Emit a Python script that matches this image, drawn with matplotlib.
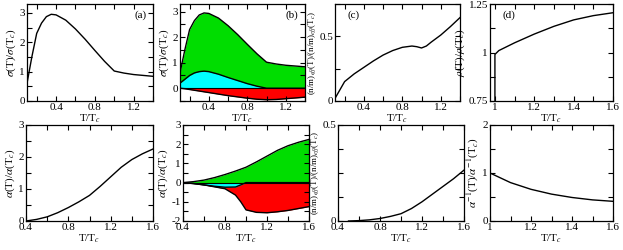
import matplotlib
matplotlib.use("Agg")
import matplotlib.pyplot as plt
from matplotlib.ticker import MultipleLocator, FuncFormatter

plt.rcParams["font.family"] = ["Liberation Serif", "DejaVu Serif"]
plt.rcParams["mathtext.fontset"] = "stix"
plt.rcParams["font.size"] = 8

# ---------------------------------------------------------------------------
# Data
# ---------------------------------------------------------------------------
# (a)/(b) conductivity, T/Tc 0.1 .. 1.4
t_sig = [0.1, 0.15, 0.2, 0.25, 0.3, 0.35, 0.4, 0.5, 0.6, 0.7, 0.8, 0.9, 1.0, 1.1, 1.2, 1.3, 1.4]
sig_tot = [0.6, 1.5, 2.3, 2.65, 2.87, 2.95, 2.93, 2.75, 2.45, 2.1, 1.72, 1.35, 1.02, 0.95, 0.9, 0.87, 0.84]
sig_cyan = [0.2, 0.35, 0.5, 0.6, 0.65, 0.67, 0.65, 0.55, 0.42, 0.3, 0.18, 0.08, 0.0, 0.0, 0.0, 0.0, 0.0]
sig_red = [0.0, -0.02, -0.05, -0.08, -0.11, -0.14, -0.17, -0.23, -0.29, -0.34, -0.39, -0.43, -0.45, -0.44, -0.41, -0.38, -0.35]

# (c) (n/m)_eff, T/Tc 0.1 .. 1.4
t_nm = [0.1, 0.2, 0.3, 0.4, 0.5, 0.6, 0.7, 0.8, 0.9, 0.95, 1.0, 1.05, 1.1, 1.2, 1.3, 1.4]
nm_top = [0.02, 0.15, 0.21, 0.26, 0.31, 0.355, 0.39, 0.415, 0.425, 0.42, 0.41, 0.425, 0.455, 0.51, 0.575, 0.645]

# (d) resistivity, T/Tc 1 .. 1.6
t_rho = [1.0, 1.0, 1.02, 1.05, 1.1, 1.2, 1.3, 1.4, 1.5, 1.6]
rho = [0.75, 0.99, 1.01, 1.025, 1.05, 1.095, 1.135, 1.168, 1.19, 1.205]

# (e)/(f) alpha, T/Tc 0.4 .. 1.6
t_al = [0.4, 0.5, 0.6, 0.7, 0.8, 0.9, 0.95, 1.0, 1.1, 1.2, 1.3, 1.4, 1.5, 1.6]
al_tot = [0.0, 0.05, 0.13, 0.26, 0.42, 0.6, 0.7, 0.8, 1.08, 1.38, 1.68, 1.92, 2.1, 2.25]
al_cyan = [0.0, -0.05, -0.12, -0.19, -0.24, -0.23, -0.12, 0.0, 0.0, 0.0, 0.0, 0.0, 0.0, 0.0]
al_red = [0.0, -0.05, -0.12, -0.22, -0.32, -0.65, -1.0, -1.42, -1.55, -1.57, -1.52, -1.45, -1.35, -1.25]

# (g) (n/m)_eff, T/Tc 0.5 .. 1.6
t_nm2 = [0.5, 0.6, 0.7, 0.8, 0.9, 1.0, 1.1, 1.2, 1.3, 1.4, 1.5, 1.6]
nm_bot = [0.0, 0.002, 0.006, 0.013, 0.024, 0.038, 0.065, 0.1, 0.14, 0.18, 0.22, 0.265]

# (h) inverse alpha, T/Tc 1 .. 1.6
t_ainv = [1.0, 1.05, 1.1, 1.2, 1.3, 1.4, 1.5, 1.6]
ainv = [1.0, 0.9, 0.8, 0.66, 0.56, 0.49, 0.44, 0.41]

GREEN, CYAN, RED = "#00dd00", "#00ffff", "#ff0000"
XLAB = r"T/T$_c$"
fmt = FuncFormatter(lambda v, p: f"{v:g}")

# ---------------------------------------------------------------------------
# Layout (pixel boxes: left, top, width, height)
# ---------------------------------------------------------------------------
W, H = 623, 250
boxes = [
    (27, 4, 126, 97), (180, 4, 125, 97), (335, 4, 125, 97), (490, 4, 123, 97),
    (26, 125, 127, 96), (183, 125, 126, 96), (338, 125, 126, 96), (490, 125, 123, 96),
]

fig = plt.figure(figsize=(W / 100, H / 100), dpi=100)
axs = [fig.add_axes([l / W, (H - t - h) / H, w / W, h / H]) for l, t, w, h in boxes]


def style(ax, xlim, ylim, xmaj, xmin, ymaj, ymin, ylabel, ylsize=8):
    ax.set_xlim(*xlim)
    ax.set_ylim(*ylim)
    ax.xaxis.set_major_locator(MultipleLocator(xmaj))
    ax.xaxis.set_minor_locator(MultipleLocator(xmin))
    ax.yaxis.set_major_locator(MultipleLocator(ymaj))
    ax.yaxis.set_minor_locator(MultipleLocator(ymin))
    ax.xaxis.set_major_formatter(fmt)
    ax.yaxis.set_major_formatter(fmt)
    ax.tick_params(which="both", direction="in", top=True, right=True, labelsize=8, pad=1.5)
    ax.tick_params(which="both", length=3.5, width=0.8)
    ax.set_xlabel(XLAB, fontsize=8, labelpad=0)
    ax.set_ylabel(ylabel, fontsize=ylsize, labelpad=1)
    for s in ax.spines.values():
        s.set_linewidth(0.9)


sig_lab = r"$\sigma$(T)/$\sigma$(T$_c$)"
nm_lab = r"(n/m)$_{eff}$(T)/(n/m)$_{eff}$(T$_c$)"
al_lab = r"$\alpha$(T)/$\alpha$(T$_c$)"

# (a)
ax = axs[0]
ax.plot(t_sig, sig_tot, color="k", lw=1)
style(ax, (0.1, 1.4), (0, 3.3), 0.4, 0.2, 1, 0.5, sig_lab)
ax.text(0.95, 0.93, "(a)", transform=ax.transAxes, ha="right", va="top")

# (b)
ax = axs[1]
ax.fill_between(t_sig, 0, sig_tot, color=GREEN, lw=0)
ax.fill_between(t_sig, sig_red, 0, color=RED, lw=0)
ax.fill_between(t_sig, 0, sig_cyan, color=CYAN, lw=0)
ax.plot(t_sig, sig_tot, color="k", lw=1)
ax.plot(t_sig, sig_cyan, color="k", lw=1)
ax.plot(t_sig, sig_red, color="k", lw=1)
ax.axhline(0, color="k", lw=0.8)
style(ax, (0.1, 1.4), (-0.5, 3.3), 0.4, 0.2, 1, 0.5, sig_lab)
ax.text(0.95, 0.93, "(b)", transform=ax.transAxes, ha="right", va="top")

# (c)
ax = axs[2]
ax.plot(t_nm, nm_top, color="k", lw=1)
style(ax, (0.1, 1.4), (0, 0.75), 0.4, 0.2, 0.5, 0.25, nm_lab, ylsize=6.5)
ax.text(0.1, 0.93, "(c)", transform=ax.transAxes, ha="left", va="top")

# (d)
ax = axs[3]
ax.plot(t_rho, rho, color="k", lw=1)
style(ax, (0.975, 1.6), (0.75, 1.25), 0.2, 0.1, 0.25, 0.125, r"$\rho$(T)/$\rho$(T$_c$)")
ax.text(0.1, 0.93, "(d)", transform=ax.transAxes, ha="left", va="top")

# (e)
ax = axs[4]
ax.plot(t_al, al_tot, color="k", lw=1)
style(ax, (0.4, 1.6), (0, 3), 0.4, 0.2, 1, 0.5, al_lab)

# (f)
ax = axs[5]
ax.fill_between(t_al, 0, al_tot, color=GREEN, lw=0)
ax.fill_between(t_al, al_red, 0, color=RED, lw=0)
ax.fill_between(t_al, al_cyan, 0, color=CYAN, lw=0)
ax.plot(t_al, al_tot, color="k", lw=1)
ax.plot(t_al, al_cyan, color="k", lw=1)
ax.plot(t_al, al_red, color="k", lw=1)
ax.axhline(0, color="k", lw=0.8)
style(ax, (0.4, 1.6), (-2, 3), 0.4, 0.2, 1, 0.5, al_lab)

# (g)
ax = axs[6]
ax.plot(t_nm2, nm_bot, color="k", lw=1)
style(ax, (0.4, 1.6), (0, 0.5), 0.4, 0.2, 0.5, 0.125, nm_lab, ylsize=6.5)

# (h)
ax = axs[7]
ax.plot(t_ainv, ainv, color="k", lw=1)
style(ax, (1.0, 1.6), (0, 2), 0.2, 0.1, 1, 0.5, r"$\alpha^{-1}$(T)/$\alpha^{-1}$(T$_c$)")

fig.savefig("out.png", dpi=100)
